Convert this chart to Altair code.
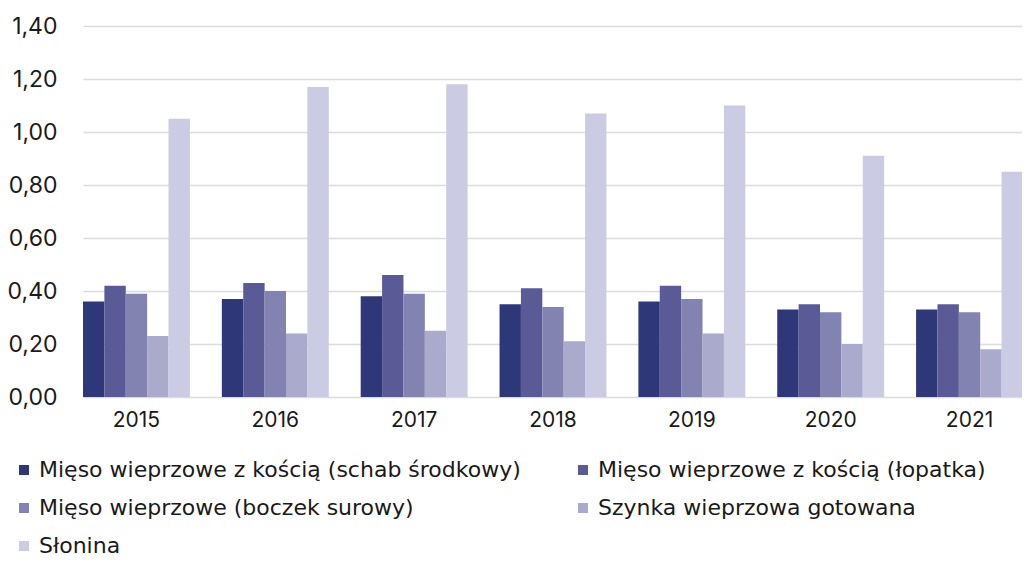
import altair as alt
import pandas as pd

years = ["2015", "2016", "2017", "2018", "2019", "2020", "2021"]
series = [
    "Mięso wieprzowe z kością (schab środkowy)",
    "Mięso wieprzowe z kością (łopatka)",
    "Mięso wieprzowe (boczek surowy)",
    "Szynka wieprzowa gotowana",
    "Słonina",
]
schab = [0.36, 0.37, 0.38, 0.35, 0.36, 0.33, 0.33]
lopatka = [0.42, 0.43, 0.46, 0.41, 0.42, 0.35, 0.35]
boczek = [0.39, 0.40, 0.39, 0.34, 0.37, 0.32, 0.32]
szynka = [0.23, 0.24, 0.25, 0.21, 0.24, 0.20, 0.18]
slonina = [1.05, 1.17, 1.18, 1.07, 1.10, 0.91, 0.85]
colors = ["#2e3878", "#5a5b96", "#8283b1", "#aaaacc", "#cbcbe3"]

rows = []
for name, vals in zip(series, [schab, lopatka, boczek, szynka, slonina]):
    for y, v in zip(years, vals):
        rows.append({"rok": y, "seria": name, "wartosc": v})
df = pd.DataFrame(rows)

FONT = "Inter"
LFONT = "DejaVu Sans"

chart = (
    alt.Chart(df)
    .mark_bar()
    .encode(
        x=alt.X(
            "rok:N",
            title=None,
            scale=alt.Scale(range=[16, 956], paddingInner=0.23, paddingOuter=0),
            axis=alt.Axis(
                labelAngle=0,
                labelFontSize=21,
                labelColor="#1a1a1a",
                labelFont=FONT,
                domain=False,
                ticks=False,
                grid=False,
                labelPadding=12,
            ),
        ),
        xOffset=alt.XOffset("seria:N", sort=series,
                            scale=alt.Scale(paddingInner=0, paddingOuter=0)),
        y=alt.Y(
            "wartosc:Q",
            title=None,
            scale=alt.Scale(domain=[0, 1.4], nice=False),
            axis=alt.Axis(
                values=[0, 0.2, 0.4, 0.6, 0.8, 1.0, 1.2, 1.4],
                labelExpr="replace(format(datum.value, '.2f'), '.', ',')",
                labelFontSize=23,
                labelColor="#1a1a1a",
                labelFont=FONT,
                domain=False,
                ticks=False,
                labelPadding=10,
                gridColor="#dcdcdc",
                gridWidth=1.5,
            ),
        ),
        color=alt.Color(
            "seria:N",
            sort=series,
            scale=alt.Scale(domain=series, range=colors),
            legend=alt.Legend(
                title=None,
                orient="none",
                legendX=-54,
                legendY=433,
                direction="horizontal",
                columns=2,
                symbolType="square",
                symbolSize=100,
                symbolStrokeWidth=0,
                labelFontSize=22,
                labelFont=LFONT,
                labelColor="#1a1a1a",
                labelOffset=4,
                rowPadding=16,
                columnPadding=51,
                labelLimit=700,
            ),
        ),
    )
    .properties(
        width=955,
        height=371,
        padding={"left": 59, "top": 18, "right": 0, "bottom": 160},
        autosize=alt.AutoSizeParams(type="none"),
    )
    .configure(background="white")
    .configure_view(stroke=None)
)

chart.save("out.html", embed_options={"renderer": "svg", "actions": False})
